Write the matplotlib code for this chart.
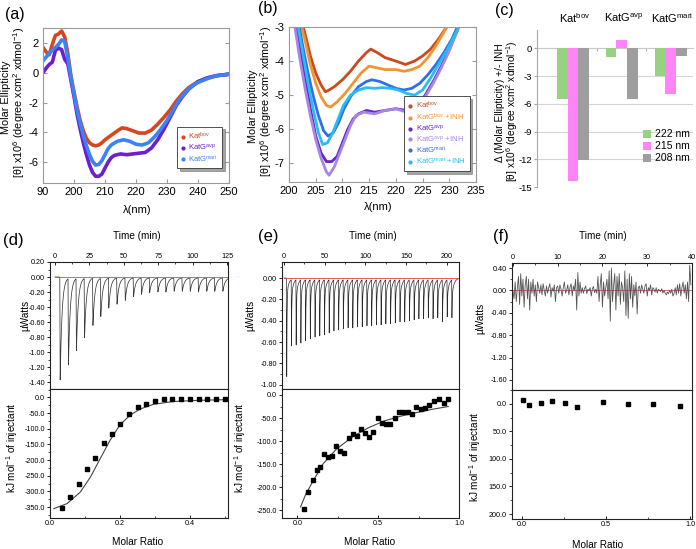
import numpy as np
import matplotlib
matplotlib.use("Agg")
import matplotlib.pyplot as plt
import matplotlib.transforms as mtransforms
from matplotlib.lines import Line2D
from matplotlib.ticker import MultipleLocator, FormatStrFormatter

plt.rcParams['font.family'] = ['Liberation Sans', 'DejaVu Sans']
plt.rcParams['mathtext.fontset'] = 'custom'
plt.rcParams['mathtext.rm'] = 'Liberation Sans'
plt.rcParams['mathtext.it'] = 'Liberation Sans:italic'
plt.rcParams['mathtext.bf'] = 'Liberation Sans:bold'
plt.rcParams['axes.unicode_minus'] = False

# ---------------- data: panel (a) ----------------
a_bov_wl = [190, 191, 192, 193, 194, 195, 196, 197, 198, 199, 200, 201, 202, 203, 204, 205, 206, 207, 208, 209,
            210, 212, 214, 215.5, 217, 219, 221, 223, 225, 227, 229, 231, 233, 235, 237, 240, 243, 246, 250]
a_bov_cd = [1.7, 1.4, 1.2, 1.9, 2.5, 2.6, 2.8, 2.4, 1.3, -0.2, -1.3, -2.3, -3.2, -3.9, -4.4, -4.7, -4.85, -4.9, -4.85, -4.7,
            -4.5, -4.2, -3.9, -3.7, -3.75, -3.9, -4.05, -4.05, -3.85, -3.45, -3.0, -2.5, -1.9, -1.4, -1.0, -0.6, -0.35, -0.2, -0.1]
a_avp_wl = [190, 191, 192, 193, 194, 195, 196, 197, 198, 199, 200, 201, 202, 203, 204, 205, 206, 207, 208, 209,
            210, 211, 212, 213, 215, 217, 219, 221, 223, 225, 227, 229, 231, 233, 235, 237, 240, 243, 246, 250]
a_avp_cd = [0.0, 0.3, 0.55, 0.7, 1.5, 1.65, 1.55, 0.9, 0.6, -0.5, -1.6, -2.8, -3.8, -4.7, -5.5, -6.2, -6.7, -6.95, -6.95, -6.8,
            -6.4, -6.0, -5.7, -5.55, -5.45, -5.5, -5.45, -5.4, -5.35, -5.05, -4.5, -3.8, -3.0, -2.2, -1.6, -1.1, -0.6, -0.35, -0.2, -0.1]
a_mari_wl = [190, 191, 192, 193, 194, 195, 196, 197, 198, 199, 200, 201, 202, 203, 204, 205, 206, 207, 208, 209,
             210, 211, 212, 214, 216, 218, 220, 222, 224, 226, 228, 230, 232, 234, 236, 238, 240, 243, 246, 250]
a_mari_cd = [0.8, 1.05, 1.3, 1.5, 1.7, 1.9, 2.2, 2.1, 1.0, -0.3, -1.4, -2.5, -3.4, -4.2, -4.9, -5.5, -5.95, -6.2, -6.15, -5.9,
             -5.5, -5.1, -4.85, -4.6, -4.5, -4.6, -4.8, -4.85, -4.7, -4.3, -3.8, -3.2, -2.5, -1.8, -1.3, -0.9, -0.65, -0.4, -0.2, -0.1]
a_xtick_values = [190, 200, 210, 220, 230, 240, 250]
a_xtick_labels = ["90", "200", "210", "220", "230", "240", "250"]
a_labels = ["Kat$^{\\mathrm{bov}}$", "KatG$^{\\mathrm{avp}}$", "KatG$^{\\mathrm{mari}}$"]

# ---------------- data: panel (b) ----------------
b_bov_wl = [202.5, 203, 204, 205, 206, 206.8, 207.5, 208.5, 210, 211.5, 213, 214.5, 215.3, 216.5, 218, 220, 221.8, 223.5, 225, 226.5, 228, 229.5, 230.3]
b_bov_cd = [-2.9, -3.2, -3.85, -4.35, -4.7, -4.9, -4.85, -4.75, -4.55, -4.3, -4.0, -3.75, -3.65, -3.75, -3.9, -4.0, -4.1, -4.0, -3.85, -3.65, -3.35, -3.0, -2.8]
b_bovI_wl = [202.2, 203, 204, 205, 206, 207, 207.8, 209, 210.5, 212, 213.5, 215, 216.5, 218, 220, 221.5, 223, 224.5, 226, 227.5, 229, 230]
b_bovI_cd = [-2.9, -3.4, -4.1, -4.65, -5.05, -5.3, -5.35, -5.2, -4.95, -4.65, -4.35, -4.15, -4.2, -4.25, -4.25, -4.3, -4.25, -4.15, -3.9, -3.55, -3.15, -2.85]
b_avp_wl = [201.2, 202, 203, 204, 205, 206, 207, 208, 209, 210, 211, 212, 213, 214.5, 216, 218, 220, 222, 224, 225.5, 227, 228.5, 230, 231.5, 232]
b_avp_cd = [-2.9, -3.6, -4.5, -5.4, -6.2, -6.7, -6.95, -6.95, -6.8, -6.4, -6.0, -5.7, -5.55, -5.45, -5.5, -5.45, -5.4, -5.45, -5.3, -5.0, -4.6, -4.15, -3.65, -3.1, -2.9]
b_avpI_wl = [201, 202, 203, 204, 205, 206, 207, 207.5, 208.5, 209.5, 210.5, 211.5, 212.5, 214, 216, 218, 220, 222, 224, 225.5, 227, 228.5, 230, 231.5, 232]
b_avpI_cd = [-2.9, -3.9, -4.8, -5.6, -6.3, -6.85, -7.25, -7.35, -7.1, -6.7, -6.3, -5.9, -5.6, -5.5, -5.55, -5.45, -5.4, -5.5, -5.35, -5.05, -4.65, -4.2, -3.7, -3.1, -2.9]
b_mari_wl = [201.8, 202.5, 203.5, 204.5, 205.5, 206.5, 207.3, 208.3, 209.3, 210.3, 211.5, 213, 214.5, 215.5, 217, 218.5, 220, 221.5, 223, 224.5, 226, 227.5, 229, 230.5, 231.5, 232]
b_mari_cd = [-2.9, -3.5, -4.3, -5.0, -5.6, -6.05, -6.2, -6.1, -5.8, -5.4, -5.05, -4.75, -4.6, -4.55, -4.6, -4.7, -4.8, -4.85, -4.8, -4.65, -4.4, -4.1, -3.75, -3.35, -3.0, -2.85]
b_mariI_wl = [201.6, 202.5, 203.5, 204.5, 205.5, 206.3, 207.2, 208.2, 209.2, 210.2, 211.5, 213, 214.5, 216, 217.5, 219, 220.5, 222, 223.5, 225, 226.5, 228, 229.5, 231, 232]
b_mariI_cd = [-2.9, -3.7, -4.6, -5.4, -6.1, -6.45, -6.4, -6.1, -5.7, -5.3, -5.0, -4.85, -4.78, -4.8, -4.78, -4.8, -4.85, -4.95, -5.0, -4.85, -4.5, -4.1, -3.7, -3.25, -2.9]
b_labels = ["Kat$^{\\mathrm{bov}}$", "KatG$^{\\mathrm{bov}}$ +INH", "KatG$^{\\mathrm{avp}}$", "KatG$^{\\mathrm{avp}}$ +INH",
            "KatG$^{\\mathrm{mari}}$", "KatG$^{\\mathrm{mari}}$ +INH"]

# ---------------- data: panel (c) ----------------
c_categories = ["Kat$^{\\mathrm{bov}}$", "KatG$^{\\mathrm{avp}}$", "KatG$^{\\mathrm{mari}}$"]
c_222 = [-5.5, -0.9, -3.0]
c_215 = [-14.3, 0.9, -4.9]
c_208 = [-12.1, -5.5, -0.8]
c_series_names = ["222 nm", "215 nm", "208 nm"]

# ---------------- data: panel (d) ITC ----------------
d_inj_time = [3.5, 9.5, 15.3, 21.2, 27.3, 33.0, 38.8, 44.8, 50.8, 56.8, 62.6, 68.5, 74.5, 80.3, 86.3, 92.2, 98.0, 104.0, 110.0, 115.8, 121.7]
d_inj_peak = [-1.37, -1.15, -0.96, -0.79, -0.63, -0.51, -0.40, -0.35, -0.30, -0.25, -0.22, -0.20, -0.19, -0.19, -0.18, -0.18, -0.18, -0.19, -0.18, -0.18, -0.18]
d_ratio = [0.033, 0.057, 0.082, 0.106, 0.13, 0.154, 0.177, 0.2, 0.227, 0.251, 0.275, 0.3, 0.326, 0.35, 0.376, 0.4, 0.426, 0.45, 0.476, 0.502]
d_heat = [-352, -319, -277, -230, -193, -147, -117, -86, -54, -32, -22, -12, -6, -6, -6, -6, -5, -6, -6, -5]
d_fit_x = [0.011, 0.049, 0.087, 0.116, 0.144, 0.172, 0.2, 0.229, 0.258, 0.296, 0.353, 0.43, 0.507]
d_fit_y = [-355, -339, -302, -254, -195, -137, -88, -57, -37, -22, -13, -9, -7]

# ---------------- data: panel (e) ITC ----------------
e_inj_time = [3.0, 8.8, 14.6, 20.4, 26.2, 32.0, 37.8, 43.6, 49.4, 55.2, 61.0, 66.8, 72.6, 78.4, 84.2, 90.0, 95.8, 101.6,
              107.4, 113.2, 119.0, 124.8, 130.6, 136.4, 142.2, 148.0, 153.8, 159.6, 165.4, 171.2, 177.0, 182.8, 188.6, 194.4, 200.2, 206.0]
e_inj_peak = [-0.97, -0.65, -0.64, -0.62, -0.60, -0.58, -0.56, -0.55, -0.54, -0.52, -0.50, -0.49, -0.48, -0.47, -0.47, -0.46, -0.46, -0.45,
              -0.45, -0.44, -0.44, -0.43, -0.43, -0.42, -0.41, -0.41, -0.40, -0.39, -0.38, -0.38, -0.37, -0.38, -0.37, -0.41, -0.36, -0.37]
e_ratio = [0.04, 0.066, 0.095, 0.12, 0.143, 0.163, 0.19, 0.215, 0.24, 0.262, 0.29, 0.318, 0.342, 0.368, 0.394, 0.418, 0.443, 0.467,
           0.497, 0.523, 0.547, 0.573, 0.602, 0.63, 0.656, 0.686, 0.712, 0.736, 0.765, 0.79, 0.815, 0.845, 0.875, 0.905, 0.93]
e_heat = [-248, -211, -185, -163, -156, -129, -134, -133, -110, -121, -125, -93, -85, -88, -74, -83, -91, -80,
          -50, -61, -64, -64, -49, -38, -38, -38, -41, -25, -30, -29, -22, -12, -9, -18, -8]
e_fit_x = [0.02, 0.05, 0.095, 0.16, 0.24, 0.34, 0.44, 0.54, 0.64, 0.74, 0.835, 0.934]
e_fit_y = [-243, -217, -188, -149, -118, -91, -71, -56, -46, -38, -31, -25]

# ---------------- data: panel (f) ITC ----------------
f_signal = [0.0, -0.15, 0.15, -0.2, 0.05, 0.25, -0.25, 0.3, -0.1, 0.2, -0.3, 0.1, 0.25, -0.15, 0.2, -0.35, 0.15, -0.05, 0.2, -0.1, 0.1, -0.2, 0.15, 0.05,
            -0.05, 0.1, -0.08, 0.12, 0.0, -0.1, 0.08, -0.05, 0.05, 0.12, -0.12, 0.05, -0.02, 0.1, -0.2, 0.05,
            0.08, -0.05, 0.1, 0.02, -0.1, 0.05, 0.15, -0.05, 0.0, 0.1, -0.08, 0.05, 0.12, -0.1, 0.08, 0.0,
            0.2, -0.35, 0.32, -0.1, 0.15, -0.05,
            0.05, -0.05, 0.03, 0.08, -0.06, 0.02, 0.0, 0.05, -0.1, 0.03, 0.07, -0.04, 0.02, -0.05,
            0.25, -0.2, 0.1, 0.3, -0.3, 0.15, -0.1, 0.05, 0.2, -0.15, 0.35, -0.55, 0.4, -0.2, 0.1, 0.3, -0.35, 0.25, -0.1, 0.3, -0.25, 0.15, 0.05, -0.2,
            0.35, -0.45, 0.2, -0.5, 0.3, -0.15, 0.25, -0.3, 0.1, -0.1,
            0.15, -0.42, 0.05, 0.08, -0.05, 0.1, 0.02, -0.05, 0.08, 0.12, -0.1, 0.05, 0.0, 0.1, -0.08, 0.05, 0.02, -0.03, 0.05, -0.05, 0.02, 0.0, -0.02, 0.03, -0.05, 0.0,
            -0.05, -0.08, -0.03, -0.06, 0.0, -0.05, 0.02, -0.1, -0.05, 0.05, -0.08, 0.1, -0.05, 0.12, -0.1, 0.05, 0.15, -0.05, 0.1, -0.15, 0.15, -0.2, 0.45, 0.1]
f_ratio = [0.004, 0.04, 0.11, 0.18, 0.256, 0.33, 0.48, 0.63, 0.78, 0.94]
f_heat = [-6.7, 2.4, -1.2, -4.3, -0.6, 5.5, -3.0, 0.6, 1.2, 4.9]

# ---------------- figure ----------------
W, H = 696, 549
fig = plt.figure(figsize=(W / 100, H / 100), dpi=100)
fig.patch.set_facecolor('white')


def px_axes(l, t, r, b):
    return fig.add_axes([l / W, 1 - b / H, (r - l) / W, (b - t) / H])


def ftext(x, y, s, **kw):
    return fig.text(x / W, 1 - y / H, s, **kw)


# ---------- (a) ----------
ax = px_axes(43, 28, 229, 183)
col_a = ['#D4471F', '#6B1FD0', '#3C82F5']
ax.plot(a_bov_wl, a_bov_cd, color=col_a[0], lw=2.6, solid_capstyle='round')
ax.plot(a_avp_wl, a_avp_cd, color=col_a[1], lw=2.6, solid_capstyle='round')
ax.plot(a_mari_wl, a_mari_cd, color=col_a[2], lw=2.6, solid_capstyle='round')
ax.set_xlim(190, 250)
ax.set_ylim(-7.4, 3.0)
ax.set_xticks(a_xtick_values)
ax.set_xticklabels(a_xtick_labels)
ax.set_yticks([-6, -4, -2, 0, 2])
for sp in ax.spines.values():
    sp.set_color('#9a9a9a')
    sp.set_linewidth(0.8)
ax.tick_params(direction='in', length=3, right=True, labelsize=8, color='#9a9a9a', pad=3)
hd = [Line2D([], [], marker='o', ms=2, ls='', color=c) for c in col_a]
leg = ax.legend(hd, a_labels, loc='lower left', bbox_to_anchor=(0.70, 0.07), fontsize=5.5, frameon=True,
                shadow=True, fancybox=False, handlelength=0.6, handletextpad=0.4, labelspacing=0.1,
                borderpad=0.5, edgecolor='#333333')
leg.get_frame().set_linewidth(0.6)
for t, c in zip(leg.get_texts(), col_a):
    t.set_color(c)
ftext(6, 97, "Molar Ellipticity", rotation=90, ha='center', va='center', fontsize=7.8)
ftext(19, 102, "[θ] x10$^6$ (degree xcm$^2$ xdmol$^{-1}$)", rotation=90, ha='center', va='center', fontsize=7.8)
ftext(137, 210, "λ(nm)", ha='center', va='center', fontsize=8)
ftext(15, 14, "(a)", ha='center', va='center', fontsize=11.5)

# ---------- (b) ----------
ax = px_axes(289, 27, 476, 182)
col_b = ['#C94A1E', '#F39433', '#6425C7', '#A886E6', '#2F6FE8', '#25BDF2']
b_series = [(b_bov_wl, b_bov_cd), (b_bovI_wl, b_bovI_cd), (b_avp_wl, b_avp_cd), (b_avpI_wl, b_avpI_cd),
            (b_mari_wl, b_mari_cd), (b_mariI_wl, b_mariI_cd)]
for (xw, yc), c in zip(b_series, col_b):
    ax.plot(xw, yc, color=c, lw=2.0, solid_capstyle='round')
ax.set_xlim(200, 235)
ax.set_ylim(-7.55, -3.0)
ax.set_xticks(range(200, 236, 5))
ax.set_yticks([-7, -6, -5, -4, -3])
for sp in ax.spines.values():
    sp.set_color('#9a9a9a')
    sp.set_linewidth(0.8)
ax.tick_params(direction='in', length=3, right=True, labelsize=8, color='#9a9a9a', pad=3)
hd = [Line2D([], [], marker='o', ms=2, ls='', color=c) for c in col_b]
leg = ax.legend(hd, b_labels, loc='lower left', bbox_to_anchor=(0.595, 0.045), fontsize=5.6, frameon=True,
                shadow=True, fancybox=False, handlelength=0.6, handletextpad=0.4, labelspacing=0.05,
                borderpad=0.5, edgecolor='#333333')
leg.get_frame().set_linewidth(0.6)
for t, c in zip(leg.get_texts(), col_b):
    t.set_color(c)
ftext(253, 106, "Molar Ellipticity", rotation=90, ha='center', va='center', fontsize=7.8)
ftext(266, 101, "[θ] x10$^6$ (degree xcm$^2$ xdmol$^{-1}$)", rotation=90, ha='center', va='center', fontsize=7.8)
ftext(378, 207, "λ(nm)", ha='center', va='center', fontsize=8)
ftext(268, 9, "(b)", ha='center', va='center', fontsize=11.5)

# ---------- (c) ----------
ax = px_axes(537, 30, 693, 187)
col_c = ['#97D283', '#FF85F7', '#9E9E9E']
xc = np.arange(len(c_categories))
bw = 0.224
for k, (vals, c, nm) in enumerate(zip([c_222, c_215, c_208], col_c, c_series_names)):
    ax.bar(xc + (k - 1) * bw, vals, width=bw, color=c, label=nm, zorder=3)
ax.set_xlim(-0.735, 2.45)
ax.set_ylim(-15, 2)
ax.set_yticks([-15, -12, -9, -6, -3, 0])
for yv in [-15, -12, -9, -6, -3]:
    ax.axhline(yv, color='#d4d4d4', lw=0.8, zorder=1)
ax.spines['top'].set_visible(False)
ax.spines['right'].set_visible(False)
ax.spines['left'].set_color('#a8a8a8')
ax.spines['bottom'].set_position(('data', 0))
ax.spines['bottom'].set_color('#c8c8c8')
ax.spines['bottom'].set_zorder(2)
ax.set_xticks([0.5, 1.5])
ax.set_xticklabels(['', ''])
ax.tick_params(axis='x', direction='out', length=2.5, color='#b0b0b0')
ax.tick_params(axis='y', direction='out', length=2, color='#a8a8a8', labelsize=6.8, pad=1.5)
trans = mtransforms.blended_transform_factory(ax.transData, ax.transAxes)
for i, lab in enumerate(c_categories):
    ax.text(xc[i] + 0.03, 1.075, lab, transform=trans, ha='center', va='center', fontsize=8)
ax.legend(loc='lower left', bbox_to_anchor=(0.62, 0.09), fontsize=7.5, frameon=False,
          handlelength=0.8, handleheight=0.8, handletextpad=0.3, labelspacing=0.2)
ftext(500, 103, "Δ (Molar Ellipticity) +/- INH", rotation=90, ha='center', va='center', fontsize=7.3)
ftext(512, 111, "[θ] x10$^6$ (degree xcm$^2$ xdmol$^{-1}$)", rotation=90, ha='center', va='center', fontsize=7.3)
ftext(504, 11, "(c)", ha='center', va='center', fontsize=11.5)


# ---------- ITC helpers ----------
def itc_trace(t, times, peaks, tau_fast, slow_amp, tau_slow):
    s = np.zeros_like(t)
    for ti, a in zip(times, peaks):
        dt = t - ti
        drop = (dt >= 0) & (dt < 0.3)
        s[drop] += a * dt[drop] / 0.3
        rec = dt >= 0.3
        fast = a - slow_amp
        s[rec] += fast * np.exp(-(dt[rec] - 0.3) / tau_fast) + slow_amp * np.exp(-(dt[rec] - 0.3) / tau_slow)
    return s


def style_itc(ax_t, ax_b, yt_fmt, yb_fmt):
    for a in (ax_t, ax_b):
        for sp in a.spines.values():
            sp.set_linewidth(0.8)
            sp.set_color('#222222')
        a.tick_params(axis='y', which='major', direction='out', length=2.5, width=0.6, labelsize=5.2, pad=1.2)
        a.tick_params(axis='y', which='minor', direction='out', length=1.5, width=0.5)
        a.tick_params(axis='x', which='major', direction='in', length=2.5, width=0.6, labelsize=5.2, pad=1.5)
        a.tick_params(axis='x', which='minor', direction='in', length=1.5, width=0.5)
    ax_t.xaxis.tick_top()
    ax_t.yaxis.set_major_formatter(FormatStrFormatter(yt_fmt))
    ax_b.yaxis.set_major_formatter(FormatStrFormatter(yb_fmt))
    ax_b.xaxis.set_major_formatter(FormatStrFormatter('%.1f'))


# ---------- (d) ----------
axt = px_axes(50, 262, 228, 389)
axb = px_axes(50, 389, 228, 518)
t_d = np.arange(0, 125.7, 0.05)
axt.plot(t_d, itc_trace(t_d, d_inj_time, d_inj_peak, 1.3, -0.05, 3.0), color='#3a3a3a', lw=0.55, zorder=2)
axt.plot([0, 125.5], [0, 0], color='#E8453C', lw=0.6, zorder=3)
axt.set_xlim(-3.6, 125.7)
axt.set_ylim(-1.49, 0.2)
axt.set_xticks([0, 25, 50, 75, 100, 125])
axt.xaxis.set_minor_locator(MultipleLocator(12.5))
axt.set_yticks([-1.4, -1.2, -1.0, -0.8, -0.6, -0.4, -0.2, 0.0, 0.2])
axt.yaxis.set_minor_locator(MultipleLocator(0.1))
axb.plot(d_fit_x, d_fit_y, color='#444444', lw=0.8)
axb.plot(d_ratio, d_heat, ls='', marker='s', ms=3.3, color='black')
axb.set_xlim(0.0, 0.51)
axb.set_ylim(-385, 27)
axb.set_xticks([0.0, 0.2, 0.4])
axb.xaxis.set_minor_locator(MultipleLocator(0.1))
axb.set_yticks([-350, -300, -250, -200, -150, -100, -50, 0])
axb.yaxis.set_minor_locator(MultipleLocator(25))
style_itc(axt, axb, '%.2f', '%.1f')
ftext(137, 236, "Time (min)", ha='center', va='center', fontsize=7.2)
ftext(25, 315, "µWatts", rotation=90, ha='center', va='center', fontsize=7.2)
ftext(12, 448, "kJ mol$^{-1}$ of injectant", rotation=90, ha='center', va='center', fontsize=7.2)
ftext(138, 542, "Molar Ratio", ha='center', va='center', fontsize=7.2)
ftext(13, 240, "(d)", ha='center', va='center', fontsize=12)

# ---------- (e) ----------
axt = px_axes(282, 262, 459, 389)
axb = px_axes(282, 389, 459, 518)
t_e = np.arange(0, 215, 0.04)
axt.plot(t_e, itc_trace(t_e, e_inj_time, e_inj_peak, 0.35, -0.15, 2.5), color='#2a2a2a', lw=0.5, zorder=2)
axt.plot([0, 214], [0, 0], color='#E8453C', lw=0.6, zorder=3)
axt.set_xlim(-2.5, 215)
axt.set_ylim(-1.04, 0.15)
axt.set_xticks([0, 50, 100, 150, 200])
axt.xaxis.set_minor_locator(MultipleLocator(25))
axt.set_yticks([-1.0, -0.8, -0.6, -0.4, -0.2, 0.0])
axt.yaxis.set_minor_locator(MultipleLocator(0.1))
axb.plot(e_fit_x, e_fit_y, color='#444444', lw=0.8)
axb.plot(e_ratio, e_heat, ls='', marker='s', ms=3.3, color='black')
axb.set_xlim(-0.095, 1.0)
axb.set_ylim(-267, 13)
axb.set_xticks([0.0, 0.5, 1.0])
axb.xaxis.set_minor_locator(MultipleLocator(0.25))
axb.set_yticks([-250, -200, -150, -100, -50, 0])
axb.yaxis.set_minor_locator(MultipleLocator(25))
style_itc(axt, axb, '%.2f', '%.1f')
ftext(373, 236, "Time (min)", ha='center', va='center', fontsize=7.2)
ftext(250, 315, "µWatts", rotation=90, ha='center', va='center', fontsize=7.2)
ftext(240, 448, "kJ mol$^{-1}$ of injectant", rotation=90, ha='center', va='center', fontsize=7.2)
ftext(370, 542, "Molar Ratio", ha='center', va='center', fontsize=7.2)
ftext(268, 237, "(e)", ha='center', va='center', fontsize=12)

# ---------- (f) ----------
axt = px_axes(512, 263, 692, 390)
axb = px_axes(512, 390, 692, 519)
t_f = np.arange(len(f_signal)) * 0.25
axt.plot([0, 40], [0, 0], color='#E8607A', lw=0.7, zorder=1)
axt.plot(t_f, f_signal, color='#555555', lw=0.6, zorder=2)
axt.set_xlim(-0.2, 40)
axt.set_ylim(-1.78, 0.49)
axt.set_xticks([0, 10, 20, 30, 40])
axt.xaxis.set_minor_locator(MultipleLocator(5))
axt.set_yticks([-1.6, -1.2, -0.8, -0.4, 0.0, 0.4])
axt.yaxis.set_minor_locator(MultipleLocator(0.2))
axb.plot(f_ratio, f_heat, ls='', marker='s', ms=3.3, color='black')
axb.set_xlim(-0.06, 1.012)
axb.set_ylim(209, -25)
axb.set_xticks([0.0, 0.5, 1.0])
axb.xaxis.set_minor_locator(MultipleLocator(0.25))
axb.set_yticks([0, 50, 100, 150, 200])
axb.yaxis.set_minor_locator(MultipleLocator(25))
style_itc(axt, axb, '%.2f', '%.1f')
ftext(603, 236, "Time (min)", ha='center', va='center', fontsize=7.2)
ftext(480, 318, "µWatts", rotation=90, ha='center', va='center', fontsize=7.2)
ftext(475, 457, "kJ mol$^{-1}$ of injectant", rotation=90, ha='center', va='center', fontsize=7.2)
ftext(598, 545, "Molar Ratio", ha='center', va='center', fontsize=7.2)
ftext(501, 237, "(f)", ha='center', va='center', fontsize=12)

fig.savefig("out.png", dpi=100, facecolor='white')
